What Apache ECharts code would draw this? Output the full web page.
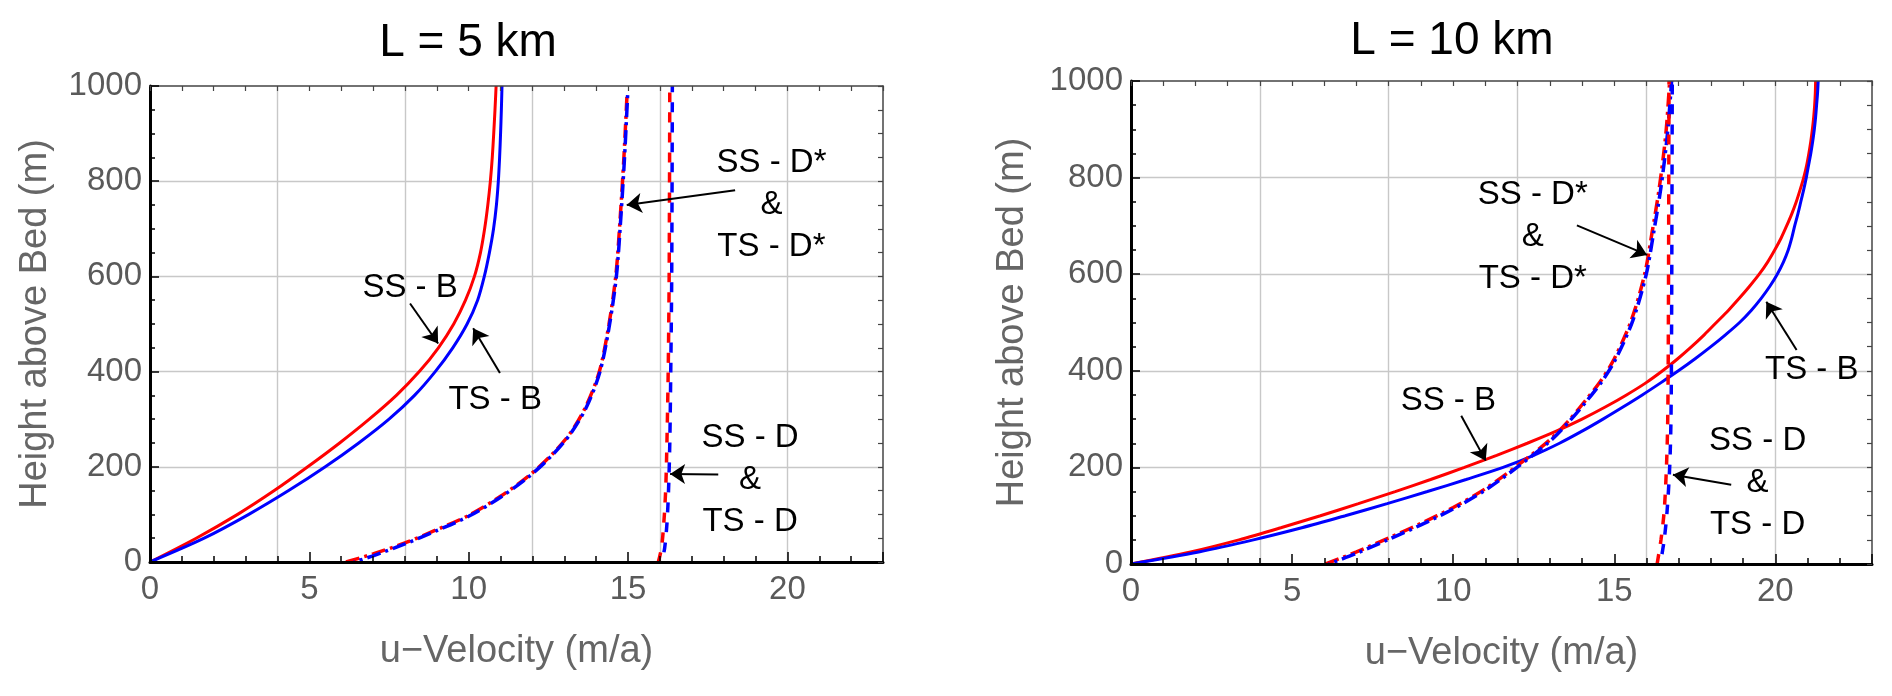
<!DOCTYPE html>
<html>
<head>
<meta charset="utf-8">
<script src="https://cdn.jsdelivr.net/npm/echarts@6/dist/echarts.min.js"></script>
<style>
  html, body { margin: 0; padding: 0; background: #fff; }
  #chart { width: 1892px; height: 696px; }
</style>
</head>
<body>
<div id="chart"></div>
<script>
// ---------- data ----------
const titles = ['L = 5 km', 'L = 10 km'];
const xName = 'u\u2212Velocity (m/a)';
const yName = 'Height above Bed (m)';

// L = 5 km  : [u-velocity (m/a), height (m)]
const ssB5  = [[0,0],[1.45,50],[2.75,100],[3.9,150],[4.95,200],[5.95,250],[6.88,300],[7.73,350],[8.45,400],[9.05,450],[9.53,500],[9.9,550],[10.18,600],[10.37,650],[10.5,700],[10.6,750],[10.68,800],[10.74,850],[10.785,900],[10.825,950],[10.86,1000]];
const tsB5  = [[0,0],[1.7,50],[3.1,100],[4.35,150],[5.5,200],[6.55,250],[7.5,300],[8.3,350],[8.95,400],[9.5,450],[9.95,500],[10.28,550],[10.49,600],[10.65,650],[10.78,700],[10.87,750],[10.93,800],[10.97,850],[11.0,900],[11.025,950],[11.045,1000]];
const ssDs5 = [[6.15,0],[7,17],[8,40],[9,68],[10,98],[11,138],[11.9,182],[12.6,225],[13.2,272],[13.67,326],[14.1,400],[14.4,499],[14.62,604],[14.76,730],[14.87,850],[14.97,985]];
const tsDs5 = [[6.4,0],[7,13],[8,38],[9,66],[10,96],[11,136],[11.9,180],[12.6,223],[13.2,270],[13.7,326],[14.12,400],[14.42,499],[14.64,604],[14.78,730],[14.89,850],[14.99,985]];
const ssD5  = [[15.95,0],[16.05,30],[16.12,80],[16.18,150],[16.22,250],[16.26,400],[16.29,600],[16.31,1000]];
const tsD5  = [[16.06,0],[16.15,30],[16.22,80],[16.27,150],[16.31,250],[16.34,400],[16.37,600],[16.39,1000]];

// L = 10 km
const ssB10  = [[0,0],[1.85,25],[3.35,50],[4.65,75],[5.88,100],[7.06,125],[8.2,150],[9.3,175],[10.35,200],[11.35,225],[12.3,250],[13.2,275],[14.0,300],[14.72,325],[15.38,350],[15.98,375],[16.5,400],[16.97,425],[17.4,450],[17.8,475],[18.17,500],[18.54,525],[18.88,550],[19.2,575],[19.5,600],[19.76,625],[19.98,650],[20.18,675],[20.35,700],[20.51,725],[20.65,750],[20.77,775],[20.88,800],[20.97,825],[21.04,850],[21.1,875],[21.15,900],[21.19,925],[21.22,950],[21.24,975],[21.25,1000]];
const tsB10  = [[0,0],[2.1,25],[3.8,50],[5.3,75],[6.65,100],[7.95,125],[9.2,150],[10.4,175],[11.55,200],[12.5,225],[13.3,250],[14.0,275],[14.65,300],[15.27,325],[15.87,350],[16.44,375],[16.99,400],[17.51,425],[18.0,450],[18.46,475],[18.89,500],[19.25,525],[19.56,550],[19.83,575],[20.06,600],[20.25,625],[20.4,650],[20.51,675],[20.6,700],[20.7,725],[20.79,750],[20.88,775],[20.96,800],[21.03,825],[21.1,850],[21.16,875],[21.21,900],[21.25,925],[21.28,950],[21.31,975],[21.33,1000]];
const ssDs10 = [[6.04,0],[7,25],[8,54],[9,84],[10,117],[11,156],[12,204],[13,257],[13.6,298],[14.1,338],[14.6,381],[15,425],[15.52,503],[15.94,599],[16.17,685],[16.4,780],[16.6,890],[16.72,1000]];
const tsDs10 = [[6.14,0],[7,22],[8,51],[9,81],[10,114],[11,153],[12,201],[13,254],[13.6,295],[14.15,338],[14.65,381],[15.05,425],[15.57,503],[15.99,599],[16.22,685],[16.45,780],[16.65,890],[16.78,1000]];
const ssD10  = [[16.33,0],[16.45,50],[16.55,110],[16.62,200],[16.66,300],[16.68,500],[16.7,1000]];
const tsD10  = [[16.43,0],[16.55,50],[16.64,110],[16.72,200],[16.76,300],[16.78,500],[16.8,1000]];

// annotations (data coordinates)
const notes5 = [
  { text: 'SS - B', at: [8.16, 575] },
  { text: 'TS - B', at: [10.83, 340] },
  { text: 'SS - D*\n&\nTS - D*', at: [19.5, 750] },
  { text: 'SS - D\n&\nTS - D', at: [18.83, 172] }
];
const arrows5 = [
  [[8.16, 543], [9.04, 459]],
  [[10.98, 397], [10.14, 491]],
  [[18.36, 781], [14.96, 750]],
  [[17.83, 184], [16.32, 185]]
];
const notes10 = [
  { text: 'SS - B', at: [9.85, 338] },
  { text: 'SS - D*\n&\nTS - D*', at: [12.47, 678] },
  { text: 'TS - B', at: [21.13, 402] },
  { text: 'SS - D\n&\nTS - D', at: [19.45, 167] }
];
const arrows10 = [
  [[10.25, 307], [11.01, 214]],
  [[13.84, 701], [16.02, 640]],
  [[20.66, 443], [19.72, 543]],
  [[18.63, 164], [16.82, 185]]
];

// ---------- styling ----------
const FONT = '"Liberation Sans", Arial, Helvetica, sans-serif';
const RED = '#ff0000', BLUE = '#0000ff';
const TICK_GRAY = '#5a5a5a', NAME_GRAY = '#666666';
const GRID_GRAY = '#c8c8c8', CLEAR = 'rgba(0,0,0,0)';

function xAxesFor(g, nameGap) {
  const c = { type: 'value', gridIndex: g, min: 0, max: 23,
    axisLabel: { show: false }, splitLine: { show: false },
    axisTick: { show: false }, axisLine: { show: false, onZero: false } };
  return [
    Object.assign({}, c, { position: 'bottom', interval: 1, z: 5,
      axisLine: { show: true, onZero: false, lineStyle: { color: '#000', width: 3 } },
      axisTick: { show: true, inside: true, length: 6, lineStyle: { color: '#000', width: 1.5 } },
      axisLabel: { show: true, formatter: v => (v % 5 === 0 ? String(v) : ''), fontSize: 33,
        color: TICK_GRAY, fontFamily: FONT, margin: 11 },
      name: xName, nameLocation: 'middle', nameGap: nameGap, nameMoveOverlap: false,
      nameTextStyle: { fontSize: 38, color: NAME_GRAY, fontFamily: FONT } }),
    Object.assign({}, c, { position: 'bottom', interval: 5, z: 5,
      axisTick: { show: true, inside: true, length: 10, lineStyle: { color: '#000', width: 1.5 } } }),
    Object.assign({}, c, { position: 'bottom', interval: 4, z: 1,
      splitLine: { show: true, lineStyle: { color: [CLEAR, GRID_GRAY, GRID_GRAY, GRID_GRAY, GRID_GRAY, GRID_GRAY, CLEAR], width: 1.4 } } }),
    Object.assign({}, c, { position: 'top', interval: 1, z: 5,
      axisLine: { show: true, onZero: false, lineStyle: { color: '#444', width: 1.5 } },
      axisTick: { show: true, inside: true, length: 5, lineStyle: { color: '#444', width: 1.2 } } })
  ];
}
function yAxesFor(g, nameGap) {
  const c = { type: 'value', gridIndex: g, min: 0, max: 1000,
    axisLabel: { show: false }, splitLine: { show: false },
    axisTick: { show: false }, axisLine: { show: false, onZero: false } };
  return [
    Object.assign({}, c, { position: 'left', interval: 200, z: 5,
      axisLine: { show: true, onZero: false, lineStyle: { color: '#000', width: 3 } },
      axisTick: { show: true, inside: true, length: 9, lineStyle: { color: '#000', width: 1.5 } },
      axisLabel: { show: true, formatter: v => String(v), fontSize: 33, color: TICK_GRAY, fontFamily: FONT, margin: 8 },
      name: yName, nameLocation: 'middle', nameGap: nameGap, nameMoveOverlap: false,
      nameTextStyle: { fontSize: 38, color: NAME_GRAY, fontFamily: FONT } }),
    Object.assign({}, c, { position: 'left', interval: 50, z: 5,
      axisTick: { show: true, inside: true, length: 5, lineStyle: { color: '#000', width: 1.5 } } }),
    Object.assign({}, c, { position: 'left', interval: 200, z: 1,
      splitLine: { show: true, lineStyle: { color: [CLEAR, GRID_GRAY, GRID_GRAY, GRID_GRAY, GRID_GRAY, CLEAR], width: 1.4 } } }),
    Object.assign({}, c, { position: 'right', interval: 50, z: 5,
      axisLine: { show: true, onZero: false, lineStyle: { color: '#444', width: 1.5 } },
      axisTick: { show: true, inside: true, length: 5, lineStyle: { color: '#444', width: 1.2 } } })
  ];
}

function curve(name, data, g, color, type, offset, width) {
  return { type: 'line', name: name, data: data, xAxisIndex: g * 4, yAxisIndex: g * 4,
    showSymbol: false, symbol: 'none', smooth: 0.3, silent: true, z: 3,
    lineStyle: { color: color, width: width || 3, type: type || 'solid', dashOffset: offset || 0, cap: 'butt' } };
}
function annotations(g, notes, arrows) {
  return { type: 'line', data: [], xAxisIndex: g * 4, yAxisIndex: g * 4, silent: true, z: 6,
    markLine: { silent: true, animation: false, symbol: ['none', 'arrow'], symbolSize: 15,
      label: { show: false }, emphasis: { disabled: true },
      lineStyle: { color: '#000', width: 2, type: 'solid' },
      data: arrows.map(a => [{ coord: a[0] }, { coord: a[1] }]) },
    markPoint: { silent: true, animation: false, symbol: 'circle', symbolSize: 1,
      itemStyle: { color: CLEAR },
      label: { show: true, position: 'inside', color: '#000', fontSize: 33, lineHeight: 42,
        fontFamily: FONT, formatter: p => p.name },
      data: notes.map(n => ({ name: n.text, coord: n.at })) } };
}

const DASH = [10, 10], DASHDOT = [14, 5, 3, 5];
const series = [
  curve('SS - B', ssB5, 0, RED), curve('TS - B', tsB5, 0, BLUE),
  curve('SS - D*', ssDs5, 0, RED, DASHDOT, 0, 3.5), curve('TS - D*', tsDs5, 0, BLUE, DASHDOT, 13, 3.5),
  curve('SS - D', ssD5, 0, RED, DASH, 0, 3.5), curve('TS - D', tsD5, 0, BLUE, DASH, 10, 3.5),
  curve('SS - B', ssB10, 1, RED), curve('TS - B', tsB10, 1, BLUE),
  curve('SS - D*', ssDs10, 1, RED, DASHDOT, 0, 3.5), curve('TS - D*', tsDs10, 1, BLUE, DASHDOT, 13, 3.5),
  curve('SS - D', ssD10, 1, RED, DASH, 0, 3.5), curve('TS - D', tsD10, 1, BLUE, DASH, 10, 3.5),
  annotations(0, notes5, arrows5),
  annotations(1, notes10, arrows10)
];

const chart = echarts.init(document.getElementById('chart'), null, { renderer: 'canvas' });
chart.setOption({
  backgroundColor: '#fff',
  animation: false,
  textStyle: { fontFamily: FONT },
  grid: [
    { left: 150, top: 86, width: 733, height: 476, outerBoundsMode: 'none' },
    { left: 1131, top: 81, width: 741, height: 483, outerBoundsMode: 'none' }
  ],
  xAxis: xAxesFor(0, 71).concat(xAxesFor(1, 71)),
  yAxis: yAxesFor(0, 95).concat(yAxesFor(1, 99)),
  graphic: [
    { type: 'text', x: 468, y: 43, style: { text: titles[0], font: '46px ' + FONT, fill: '#000', align: 'center', verticalAlign: 'middle' } },
    { type: 'text', x: 1452, y: 41, style: { text: titles[1], font: '46px ' + FONT, fill: '#000', align: 'center', verticalAlign: 'middle' } }
  ],
  series: series
});
</script>
</body>
</html>
